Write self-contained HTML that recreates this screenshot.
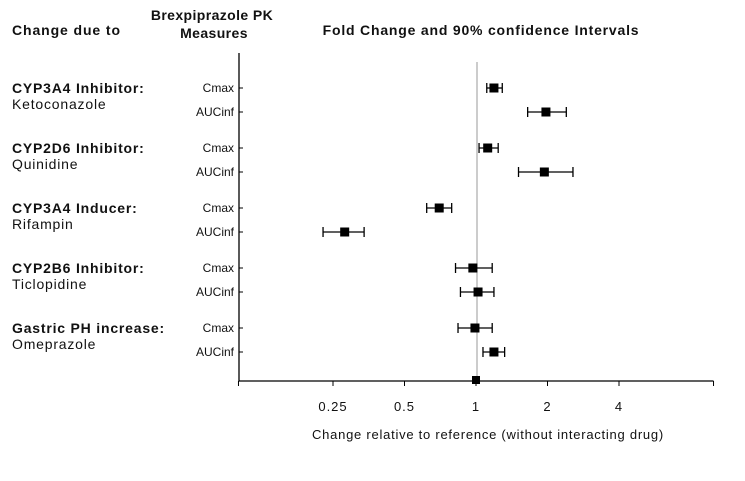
<!DOCTYPE html>
<html><head><meta charset="utf-8"><style>
body{margin:0;background:#fff;}
svg text{font-family:"Liberation Sans",Arial,sans-serif;fill:#111;}
</style></head><body>
<svg id="chart" width="745" height="476" xmlns="http://www.w3.org/2000/svg">
<text x="12" y="35" font-size="14" font-weight="bold" letter-spacing="0.9">Change due to</text>
<text x="212" y="20" font-size="14" font-weight="bold" letter-spacing="0.4" text-anchor="middle">Brexpiprazole PK</text>
<text x="214" y="38" font-size="14" font-weight="bold" letter-spacing="0.4" text-anchor="middle">Measures</text>
<text x="481" y="35" font-size="14" font-weight="bold" letter-spacing="0.8" text-anchor="middle">Fold Change and 90% confidence Intervals</text>
<g id="groups"></g>
<g id="marks"></g>
</svg>
<script>
const groups=["CYP3A4 Inhibitor:","CYP2D6 Inhibitor:","CYP3A4 Inducer:","CYP2B6 Inhibitor:","Gastric PH increase:"];
const drugs=["Ketoconazole","Quinidine","Rifampin","Ticlopidine","Omeprazole"];
const measures=["Cmax","AUCinf"];
const estimates=[1.19,1.97,1.12,1.94,0.70,0.28,0.97,1.02,0.99,1.19];
const lower=[1.11,1.65,1.03,1.51,0.62,0.227,0.82,0.86,0.84,1.07];
const upper=[1.29,2.40,1.24,2.56,0.79,0.338,1.17,1.19,1.17,1.32];
const tickLabels=["0.25","0.5","1","2","4"];
const tickValues=[0.25,0.5,1,2,4];
const NS="http://www.w3.org/2000/svg";
const svg=document.getElementById('chart');
const X0=476,PX=71.5;
const xs=v=>X0+PX*Math.log2(v);
const rowY=i=>88+Math.floor(i/2)*60+(i%2)*24;
const axisY=381;
function mk(tag,attrs,parent){const e=document.createElementNS(NS,tag);for(const k in attrs)e.setAttribute(k,attrs[k]);(parent||svg).appendChild(e);return e;}
function txt(s,attrs){const e=mk('text',attrs);e.textContent=s;return e;}
let e=mk('line',{x1:239,y1:53,x2:239,y2:axisY,stroke:'#000','stroke-width':1.3});


e=mk('line',{x1:xs(1)+1,y1:62,x2:xs(1)+1,y2:axisY,stroke:'#aaa','stroke-width':1.2});


e=mk('line',{x1:xs(0.1),y1:axisY,x2:xs(10),y2:axisY,stroke:'#000','stroke-width':1.3});


[0.1,10].forEach(v=>{mk('line',{x1:xs(v),y1:axisY,x2:xs(v),y2:axisY+5,stroke:'#000'});});
tickValues.forEach((v,i)=>{
  mk('line',{x1:xs(v),y1:axisY,x2:xs(v),y2:axisY+5,stroke:'#000'});
  const t=txt(tickLabels[i],{x:xs(v),y:axisY+30,'font-size':13,'letter-spacing':1,'text-anchor':'middle'});
  
  
});
e=txt("Change relative to reference (without interacting drug)",{x:488,y:axisY+58,'font-size':13,'letter-spacing':0.75,'text-anchor':'middle'});


groups.forEach((g,i)=>{
  const y=rowY(i*2);
  let t=txt(g,{x:12,y:y+5,'font-size':14,'font-weight':'bold','letter-spacing':0.8});
  
  
  t=txt(drugs[i],{x:12,y:y+21,'font-size':14,'letter-spacing':0.8});
  
  
});
estimates.forEach((v,i)=>{
  const y=rowY(i);
  let t=txt(measures[i%2],{x:234,y:y+4,'font-size':12,'text-anchor':'end'});
  
  
  mk('line',{x1:239,y1:y,x2:243,y2:y,stroke:'#000'});
  const g=mk('g',{});
  
  
  const a=xs(lower[i]),b=xs(upper[i]);
  mk('line',{x1:a,y1:y,x2:b,y2:y,stroke:'#000','stroke-width':1.3},g);
  mk('line',{x1:a,y1:y-5,x2:a,y2:y+5,stroke:'#000','stroke-width':1.3},g);
  mk('line',{x1:b,y1:y-5,x2:b,y2:y+5,stroke:'#000','stroke-width':1.3},g);
  mk('rect',{x:xs(v)-4.5,y:y-4.5,width:9,height:9,fill:'#000'},g);
});
e=mk('rect',{x:xs(1)-4,y:axisY-5,width:8,height:8,fill:'#000'});


</script>
</body></html>
